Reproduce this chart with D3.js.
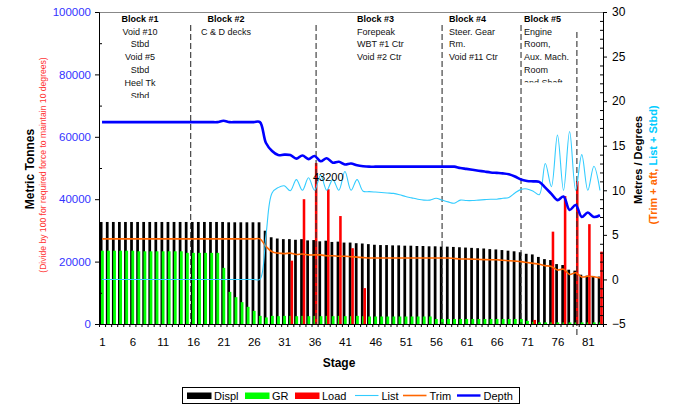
<!DOCTYPE html>
<html>
<head>
<meta charset="utf-8">
<script src="https://cdn.jsdelivr.net/npm/d3@7"></script>
<style>
  body { margin: 0; background: #fff; }
  svg text { font-family: Arial, "Liberation Sans", sans-serif; }
</style>
</head>
<body>
<script>
// stages 1..83
const stages = [
  1, 2, 3, 4, 5, 6, 7, 8, 9, 10, 11, 12, 13, 14, 15, 16, 17, 18, 19, 20,
  21, 22, 23, 24, 25, 26, 27, 28, 29, 30, 31, 32, 33, 34, 35, 36, 37, 38, 39, 40,
  41, 42, 43, 44, 45, 46, 47, 48, 49, 50, 51, 52, 53, 54, 55, 56, 57, 58, 59, 60,
  61, 62, 63, 64, 65, 66, 67, 68, 69, 70, 71, 72, 73, 74, 75, 76, 77, 78, 79, 80,
  81, 82, 83
];

// metric tonnes (left axis)
const displ = [
  32700, 32700, 32700, 32700, 32700, 32700, 32700, 32700, 32700, 32700,
  32700, 32700, 32700, 32700, 32700, 32700, 32700, 32700, 32700, 32700,
  32700, 32600, 32600, 32600, 32600, 32600, 32600, 29900, 27800, 27400,
  27200, 27200, 27000, 27200, 26800, 26900, 26500, 26700, 26300, 26400,
  26100, 26100, 25900, 25800, 25600, 25400, 25300, 25300, 25200, 25200,
  25100, 25100, 25000, 25000, 24900, 24900, 24800, 24800, 24700, 24600,
  24500, 24400, 24300, 24200, 24000, 23900, 23700, 23500, 23300, 23000,
  22500, 22300, 21500, 20800, 20500, 19200, 18900, 17400, 17100, 15800,
  15500, 15400, 15200
];
const gr = [
  23500, 23500, 23500, 23500, 23500, 23500, 23300, 23300, 23300, 23300,
  23300, 23300, 23300, 23300, 22800, 22800, 22800, 22800, 22800, 22800,
  18000, 10300, 8600, 7000, 5500, 4200, 2600, 2100, 2600, 2500,
  2600, 2600, 2500, 2600, 2500, 2600, 2500, 2600, 2500, 2600,
  2500, 2500, 2600, 2500, 2400, 2400, 2400, 2400, 2400, 2400,
  2400, 2400, 2400, 2400, 2400, 1600, 1600, 1600, 1600, 1600,
  1600, 1600, 1600, 1600, 1600, 1600, 1600, 1600, 1600, 1600,
  1000, 700, 500, 500, 500, 500, 500, 500, 500, 500,
  500, 500, 500
];
const load = [
  0, 0, 0, 0, 0, 0, 0, 0, 0, 0,
  0, 0, 0, 0, 0, 0, 0, 0, 0, 0,
  0, 0, 0, 0, 0, 0, 0, 0, 0, 0,
  0, 20300, 0, 40000, 0, 51600, 0, 43200, 0, 34600,
  0, 24300, 0, 11500, 0, 0, 0, 0, 0, 0,
  0, 0, 0, 0, 0, 0, 0, 0, 0, 0,
  0, 0, 0, 0, 0, 0, 0, 0, 0, 0,
  0, 1300, 0, 0, 29600, 0, 41000, 0, 45800, 0,
  32000, 0, 23200
];

// metres / degrees (right axis)
const list = [
  0, 0, 0, 0, 0, 0, 0, 0, 0, 0,
  0, 0, 0, 0, 0, 0, 0, 0, 0, 0,
  0, 0, 0, 0, 0, 0, 0, 5, 9.7, 10.3,
  10.5, 9.95, 11.2, 10.0, 11.4, 10.0, 11.7, 10.0, 11.2, 10.0,
  12.1, 10.0, 11.2, 9.9, 9.85, 9.8, 9.75, 9.7, 9.65, 9.5,
  9.3, 9.15, 9.0, 8.9, 8.9, 9.1, 8.9, 8.7, 8.55, 8.9,
  8.85, 8.85, 8.9, 8.95, 9.0, 9.0, 9.1, 9.2, 9.7, 10.1,
  10.15, 9.9, 9.5, 13.0, 10.4, 16.2, 10.0, 16.6, 10.0, 14.0,
  10.0, 12.7, 10.0
];
const trim = [
  4.55, 4.55, 4.55, 4.55, 4.55, 4.55, 4.55, 4.55, 4.55, 4.55,
  4.55, 4.55, 4.55, 4.55, 4.55, 4.55, 4.55, 4.55, 4.55, 4.55,
  4.55, 4.55, 4.55, 4.55, 4.55, 4.55, 4.55, 3.7, 3.1, 2.95,
  2.9, 2.95, 2.8, 2.85, 2.75, 2.75, 2.75, 2.65, 2.65, 2.6,
  2.6, 2.55, 2.5, 2.45, 2.4, 2.4, 2.4, 2.4, 2.4, 2.4,
  2.4, 2.4, 2.4, 2.4, 2.4, 2.4, 2.4, 2.4, 2.35, 2.3,
  2.3, 2.28, 2.25, 2.22, 2.2, 2.2, 2.15, 2.1, 2.05, 2.0,
  1.9, 1.8, 1.7, 1.55, 1.45, 1.05, 1.15, 0.55, 0.75, 0.28,
  0.35, 0.3, 0.15
];
const depth = [
  17.65, 17.65, 17.65, 17.65, 17.65, 17.65, 17.65, 17.65, 17.65, 17.65,
  17.65, 17.65, 17.65, 17.65, 17.65, 17.65, 17.65, 17.65, 17.65, 17.65,
  17.8, 17.65, 17.65, 17.65, 17.65, 17.65, 17.65, 15.3, 14.4, 13.95,
  14.0, 13.95, 13.55, 13.9, 13.5, 13.85, 13.25, 13.6, 13.1, 13.2,
  12.9, 13.0, 12.8, 12.7, 12.65, 12.65, 12.65, 12.65, 12.65, 12.65,
  12.65, 12.65, 12.65, 12.65, 12.65, 12.65, 12.65, 12.65, 12.65, 12.5,
  12.4, 12.3, 12.2, 12.1, 12.0, 11.95, 11.9, 11.8, 11.55, 11.2,
  11.05, 11.0, 10.95, 10.3, 9.6, 8.9, 9.3, 7.8, 8.35, 7.0,
  7.5, 7.0, 7.2
];

const xTickLabels = [1, 6, 11, 16, 21, 26, 31, 36, 41, 46, 51, 56, 61, 66, 71, 76, 81];
const leftTicks = [0, 20000, 40000, 60000, 80000, 100000];
const rightTicks = [-5, 0, 5, 10, 15, 20, 25, 30];

// block dividers (stage positions) and notes
const blockDividers = [15.6, 36.25, 57, 70, 79.2];
const blockTitles = ["Block #1", "Block #2", "Block #3", "Block #4", "Block #5"];
const blockLines = [
  ["Void #10", "Stbd", "Void #5", "Stbd", "Heel Tk", "Stbd"],
  ["C & D decks"],
  ["Forepeak", "WBT #1 Ctr", "Void #2 Ctr"],
  ["Steer. Gear", "Rm.", "Void #11 Ctr"],
  ["Engine", "Room,", "Aux. Mach.", "Room", "and Shaft"]
];
const loadLabel = { stage: 38, text: "43200" };

const width = 677, height = 409;
const plot = { left: 99, right: 603, top: 12, bottom: 324 };

const svg = d3.select("body").append("svg")
  .attr("width", width)
  .attr("height", height);

const xBand = d3.scaleBand().domain(stages).range([plot.left, plot.right]).padding(0);
const xLin = d3.scaleLinear().domain([0.5, 83.5]).range([plot.left, plot.right]);
const yL = d3.scaleLinear().domain([0, 100000]).range([plot.bottom, plot.top]);
const yR = d3.scaleLinear().domain([-5, 30]).range([plot.bottom, plot.top]);
const bw = xBand.bandwidth();

// top border
svg.append("line")
  .attr("x1", plot.left).attr("x2", plot.right)
  .attr("y1", plot.top + 0.5).attr("y2", plot.top + 0.5)
  .attr("stroke", "#888").attr("stroke-width", 1);

// bars
const barSeries = [
  { values: displ, colour: "#000000", off: 0.13, w: 0.45 },
  { values: gr, colour: "#00ff00", off: 0.33, w: 0.46 },
  { values: load, colour: "#ff0000", off: 0.55, w: 0.42 }
];
barSeries.forEach((s) => {
  svg.append("g").selectAll("rect")
    .data(stages.filter((d, i) => s.values[i] > 0))
    .enter()
    .append("rect")
    .attr("x", (d) => xBand(d) + bw * s.off)
    .attr("width", bw * s.w)
    .attr("y", (d) => yL(s.values[d - 1]))
    .attr("height", (d) => yL(0) - yL(s.values[d - 1]))
    .attr("fill", s.colour);
});

// block dividers
blockDividers.forEach((b, i) => {
  svg.append("line")
    .attr("x1", xLin(b)).attr("x2", xLin(b))
    .attr("y1", i === 4 ? 32 : 25)
    .attr("y2", i === 4 ? 335 : plot.bottom)
    .attr("stroke", "#333")
    .attr("stroke-width", 1.1)
    .attr("stroke-dasharray", "6,3");
});

// lines
const curve = d3.curveCatmullRom.alpha(0.5);
const lineSeries = [
  { values: trim, colour: "#ff6600", w: 1.6 },
  { values: list, colour: "#33ccff", w: 1.1 },
  { values: depth, colour: "#0000ff", w: 2.6 }
];
lineSeries.forEach((s) => {
  svg.append("path")
    .datum(stages)
    .attr("fill", "none")
    .attr("stroke", s.colour)
    .attr("stroke-width", s.w)
    .attr("stroke-linejoin", "round")
    .attr("d", d3.line().curve(curve)
      .x((d) => xLin(d))
      .y((d) => yR(s.values[d - 1])));
});

// data label on load bar
svg.append("text")
  .attr("x", xLin(loadLabel.stage) + 1.5)
  .attr("y", yL(load[loadLabel.stage - 1]) - 8)
  .attr("text-anchor", "middle")
  .attr("font-size", "11px")
  .attr("fill", "#000")
  .text(loadLabel.text);

// block notes
const blockPos = [
  { x: 140, anchor: "middle", clip: 98 },
  { x: 226, anchor: "middle", clip: 120 },
  { x: 357, anchor: "start", clip: 120 },
  { x: 449, anchor: "start", clip: 120 },
  { x: 524, anchor: "start", clip: 82.5 }
];
const defs = svg.append("defs");
blockTitles.forEach((t, i) => {
  const p = blockPos[i];
  defs.append("clipPath").attr("id", "blk" + i)
    .append("rect").attr("x", p.x - 60).attr("y", 0)
    .attr("width", 130).attr("height", p.clip);
  const g = svg.append("g").attr("clip-path", `url(#blk${i})`);
  g.append("text")
    .attr("x", p.x).attr("y", 21.5)
    .attr("text-anchor", p.anchor)
    .attr("font-size", "9px")
    .attr("font-weight", "bold")
    .text(t);
  blockLines[i].forEach((l, j) => {
    g.append("text")
      .attr("x", p.x).attr("y", 34.5 + j * 12.9)
      .attr("text-anchor", p.anchor)
      .attr("font-size", "9px")
      .attr("fill", "#111")
      .text(l);
  });
});

// left axis
const gL = svg.append("g")
  .attr("transform", `translate(${plot.left},0)`)
  .call(d3.axisLeft(yL).tickValues(leftTicks).tickSize(4).tickPadding(4).tickFormat(d3.format("d")));
gL.selectAll("text").attr("fill", "#3333ff").attr("font-size", "11.5px");
svg.append("g")
  .attr("transform", `translate(${plot.left},0)`)
  .call(d3.axisRight(yL).tickValues([10000, 30000, 50000, 70000, 90000]).tickSize(3).tickFormat(""))
  .select(".domain").remove();

// right axis
const gR = svg.append("g")
  .attr("transform", `translate(${plot.right},0)`)
  .call(d3.axisRight(yR).tickValues(rightTicks).tickSize(4).tickPadding(5));
gR.selectAll("text").attr("fill", "#000").attr("font-size", "12px");
svg.append("g")
  .attr("transform", `translate(${plot.right},0)`)
  .call(d3.axisLeft(yR).tickValues(d3.range(-4, 30, 1).filter((v) => v % 5 !== 0)).tickSize(3).tickFormat(""))
  .select(".domain").remove();

// bottom axis
svg.append("g")
  .attr("transform", `translate(0,${plot.bottom})`)
  .call(d3.axisBottom(xLin).tickValues(d3.range(0.5, 84, 1)).tickSize(3).tickFormat(""));
const gB = svg.append("g")
  .attr("transform", `translate(0,${plot.bottom})`)
  .call(d3.axisBottom(xLin).tickValues(xTickLabels).tickSize(0).tickPadding(14).tickFormat(d3.format("d")));
gB.select(".domain").remove();
gB.selectAll("text").attr("fill", "#000").attr("font-size", "11.5px");
svg.selectAll(".domain").attr("stroke", "#000");
svg.selectAll(".tick line").attr("stroke", "#000");

// axis titles
svg.append("text")
  .attr("x", 339).attr("y", 367)
  .attr("text-anchor", "middle")
  .attr("font-size", "12px").attr("font-weight", "bold")
  .text("Stage");

svg.append("text")
  .attr("transform", "translate(33.5,169) rotate(-90)")
  .attr("text-anchor", "middle")
  .attr("font-size", "12px").attr("font-weight", "bold")
  .text("Metric Tonnes");
svg.append("text")
  .attr("transform", "translate(46,165) rotate(-90)")
  .attr("text-anchor", "middle")
  .attr("font-size", "8.6px")
  .attr("fill", "#ff3333")
  .text("(Divide by 100 for required force to maintain  10 degrees)");

svg.append("text")
  .attr("transform", "translate(642,160) rotate(-90)")
  .attr("text-anchor", "middle")
  .attr("font-size", "11px").attr("font-weight", "bold")
  .text("Metres / Degrees");
const t2 = svg.append("text")
  .attr("transform", "translate(657,165) rotate(-90)")
  .attr("text-anchor", "middle")
  .attr("font-size", "11px").attr("font-weight", "bold");
t2.append("tspan").attr("fill", "#ff6600").text("(Trim + aft, ");
t2.append("tspan").attr("fill", "#00ccff").text("List + Stbd)");

// legend
const lg = svg.append("g");
lg.append("rect")
  .attr("x", 182.5).attr("y", 387.5)
  .attr("width", 337).attr("height", 16)
  .attr("fill", "#fff").attr("stroke", "#000");
const legendItems = [
  { name: "Displ", colour: "#000000", type: "bar", x: 187 },
  { name: "GR", colour: "#00ff00", type: "bar", x: 245 },
  { name: "Load", colour: "#ff0000", type: "bar", x: 295 },
  { name: "List", colour: "#33ccff", type: "line", x: 355, w: 1.1 },
  { name: "Trim", colour: "#ff6600", type: "line", x: 403, w: 1.6 },
  { name: "Depth", colour: "#0000ff", type: "line", x: 457, w: 2.4 }
];
legendItems.forEach((d) => {
  if (d.type === "bar") {
    lg.append("rect").attr("x", d.x).attr("y", 392.5)
      .attr("width", 24.5).attr("height", 6.5).attr("fill", d.colour);
  } else {
    lg.append("line").attr("x1", d.x).attr("x2", d.x + 23.5)
      .attr("y1", 395.5).attr("y2", 395.5)
      .attr("stroke", d.colour).attr("stroke-width", d.w);
  }
  lg.append("text")
    .attr("x", d.x + (d.type === "bar" ? 27 : 26.5))
    .attr("y", 399.5)
    .attr("font-size", "11px")
    .text(d.name);
});
</script>
</body>
</html>
